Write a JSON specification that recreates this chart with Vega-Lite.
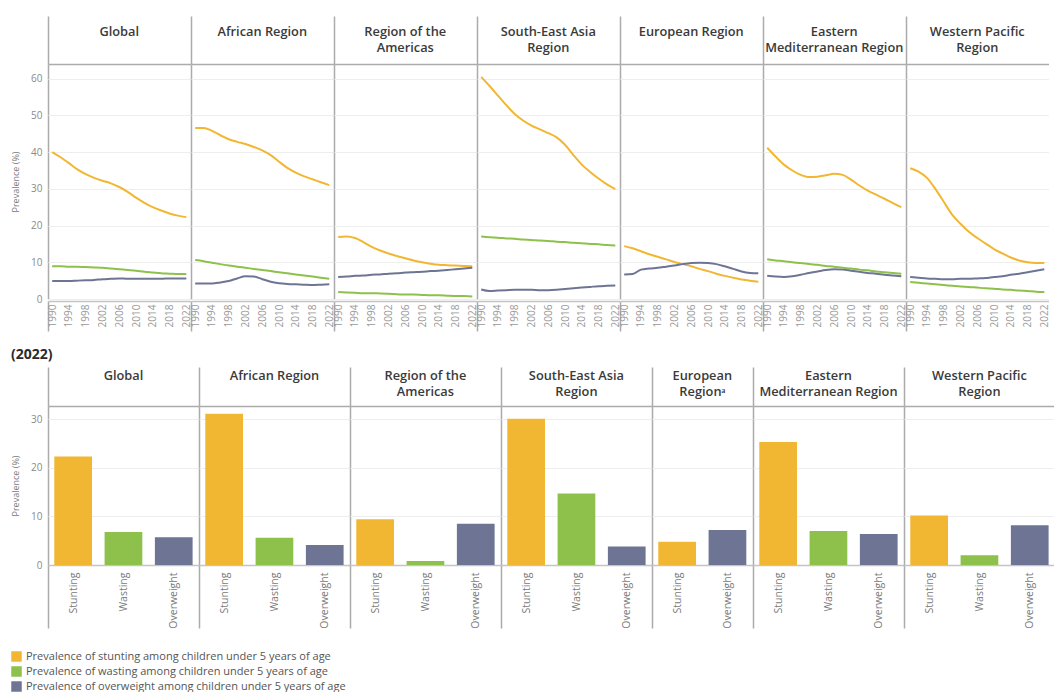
{
  "$schema": "https://vega.github.io/schema/vega-lite/v6.json",
  "background": "white",
  "padding": {"left": 11, "top": 15, "right": 0, "bottom": 0},
  "config": {
    "font": "Open Sans",
    "view": {"stroke": null},
    "header": {
      "labelFont": "Open Sans",
      "labelFontSize": 12.8,
      "labelFontWeight": 600,
      "labelColor": "#3a3a3a",
      "labelLineHeight": 16
    }
  },
  "datasets": {
    "trend": [
      {"region": "Global", "year": 1990, "Stunting": 40.0, "Wasting": 8.9, "Overweight": 4.9},
      {"region": "Global", "year": 1992, "Stunting": 38.6, "Wasting": 8.9, "Overweight": 4.9},
      {"region": "Global", "year": 1994, "Stunting": 37.0, "Wasting": 8.8, "Overweight": 4.9},
      {"region": "Global", "year": 1996, "Stunting": 35.3, "Wasting": 8.8, "Overweight": 5.0},
      {"region": "Global", "year": 1998, "Stunting": 34.0, "Wasting": 8.7, "Overweight": 5.1},
      {"region": "Global", "year": 2000, "Stunting": 33.0, "Wasting": 8.6, "Overweight": 5.2},
      {"region": "Global", "year": 2002, "Stunting": 32.2, "Wasting": 8.5, "Overweight": 5.4},
      {"region": "Global", "year": 2004, "Stunting": 31.5, "Wasting": 8.3, "Overweight": 5.5},
      {"region": "Global", "year": 2006, "Stunting": 30.5, "Wasting": 8.1, "Overweight": 5.6},
      {"region": "Global", "year": 2008, "Stunting": 29.2, "Wasting": 7.9, "Overweight": 5.5},
      {"region": "Global", "year": 2010, "Stunting": 27.6, "Wasting": 7.7, "Overweight": 5.5},
      {"region": "Global", "year": 2012, "Stunting": 26.2, "Wasting": 7.4, "Overweight": 5.5},
      {"region": "Global", "year": 2014, "Stunting": 25.0, "Wasting": 7.2, "Overweight": 5.5},
      {"region": "Global", "year": 2016, "Stunting": 24.1, "Wasting": 7.0, "Overweight": 5.5},
      {"region": "Global", "year": 2018, "Stunting": 23.3, "Wasting": 6.9, "Overweight": 5.6},
      {"region": "Global", "year": 2020, "Stunting": 22.7, "Wasting": 6.8, "Overweight": 5.6},
      {"region": "Global", "year": 2022, "Stunting": 22.3, "Wasting": 6.8, "Overweight": 5.6},

      {"region": "African Region", "year": 1990, "Stunting": 46.6, "Wasting": 10.6, "Overweight": 4.2},
      {"region": "African Region", "year": 1992, "Stunting": 46.6, "Wasting": 10.3, "Overweight": 4.2},
      {"region": "African Region", "year": 1994, "Stunting": 45.8, "Wasting": 9.9, "Overweight": 4.2},
      {"region": "African Region", "year": 1996, "Stunting": 44.6, "Wasting": 9.5, "Overweight": 4.5},
      {"region": "African Region", "year": 1998, "Stunting": 43.5, "Wasting": 9.1, "Overweight": 4.9},
      {"region": "African Region", "year": 2000, "Stunting": 42.8, "Wasting": 8.8, "Overweight": 5.6},
      {"region": "African Region", "year": 2002, "Stunting": 42.2, "Wasting": 8.5, "Overweight": 6.2},
      {"region": "African Region", "year": 2004, "Stunting": 41.4, "Wasting": 8.2, "Overweight": 6.1},
      {"region": "African Region", "year": 2006, "Stunting": 40.5, "Wasting": 7.9, "Overweight": 5.4},
      {"region": "African Region", "year": 2008, "Stunting": 39.2, "Wasting": 7.6, "Overweight": 4.7},
      {"region": "African Region", "year": 2010, "Stunting": 37.4, "Wasting": 7.3, "Overweight": 4.3},
      {"region": "African Region", "year": 2012, "Stunting": 35.7, "Wasting": 7.0, "Overweight": 4.1},
      {"region": "African Region", "year": 2014, "Stunting": 34.4, "Wasting": 6.7, "Overweight": 4.0},
      {"region": "African Region", "year": 2016, "Stunting": 33.4, "Wasting": 6.4, "Overweight": 3.9},
      {"region": "African Region", "year": 2018, "Stunting": 32.6, "Wasting": 6.1, "Overweight": 3.8},
      {"region": "African Region", "year": 2020, "Stunting": 31.8, "Wasting": 5.8, "Overweight": 3.9},
      {"region": "African Region", "year": 2022, "Stunting": 31.0, "Wasting": 5.5, "Overweight": 4.0},

      {"region": "Region of the Americas", "year": 1990, "Stunting": 16.9, "Wasting": 1.9, "Overweight": 6.0},
      {"region": "Region of the Americas", "year": 1992, "Stunting": 17.0, "Wasting": 1.8, "Overweight": 6.1},
      {"region": "Region of the Americas", "year": 1994, "Stunting": 16.6, "Wasting": 1.7, "Overweight": 6.3},
      {"region": "Region of the Americas", "year": 1996, "Stunting": 15.5, "Wasting": 1.6, "Overweight": 6.4},
      {"region": "Region of the Americas", "year": 1998, "Stunting": 14.2, "Wasting": 1.6, "Overweight": 6.6},
      {"region": "Region of the Americas", "year": 2000, "Stunting": 13.2, "Wasting": 1.5, "Overweight": 6.7},
      {"region": "Region of the Americas", "year": 2002, "Stunting": 12.4, "Wasting": 1.4, "Overweight": 6.9},
      {"region": "Region of the Americas", "year": 2004, "Stunting": 11.7, "Wasting": 1.3, "Overweight": 7.0},
      {"region": "Region of the Americas", "year": 2006, "Stunting": 11.1, "Wasting": 1.2, "Overweight": 7.2},
      {"region": "Region of the Americas", "year": 2008, "Stunting": 10.5, "Wasting": 1.2, "Overweight": 7.3},
      {"region": "Region of the Americas", "year": 2010, "Stunting": 10.0, "Wasting": 1.1, "Overweight": 7.4},
      {"region": "Region of the Americas", "year": 2012, "Stunting": 9.6, "Wasting": 1.0, "Overweight": 7.6},
      {"region": "Region of the Americas", "year": 2014, "Stunting": 9.3, "Wasting": 1.0, "Overweight": 7.7},
      {"region": "Region of the Americas", "year": 2016, "Stunting": 9.2, "Wasting": 0.9, "Overweight": 7.9},
      {"region": "Region of the Americas", "year": 2018, "Stunting": 9.1, "Wasting": 0.8, "Overweight": 8.1},
      {"region": "Region of the Americas", "year": 2020, "Stunting": 9.0, "Wasting": 0.8, "Overweight": 8.3},
      {"region": "Region of the Americas", "year": 2022, "Stunting": 8.9, "Wasting": 0.7, "Overweight": 8.5},

      {"region": "South-East Asia Region", "year": 1990, "Stunting": 60.5, "Wasting": 17.0, "Overweight": 2.6},
      {"region": "South-East Asia Region", "year": 1992, "Stunting": 58.0, "Wasting": 16.8, "Overweight": 2.2},
      {"region": "South-East Asia Region", "year": 1994, "Stunting": 55.4, "Wasting": 16.7, "Overweight": 2.3},
      {"region": "South-East Asia Region", "year": 1996, "Stunting": 52.8, "Wasting": 16.5, "Overweight": 2.4},
      {"region": "South-East Asia Region", "year": 1998, "Stunting": 50.4, "Wasting": 16.4, "Overweight": 2.5},
      {"region": "South-East Asia Region", "year": 2000, "Stunting": 48.6, "Wasting": 16.2, "Overweight": 2.5},
      {"region": "South-East Asia Region", "year": 2002, "Stunting": 47.2, "Wasting": 16.1, "Overweight": 2.5},
      {"region": "South-East Asia Region", "year": 2004, "Stunting": 46.2, "Wasting": 15.9, "Overweight": 2.4},
      {"region": "South-East Asia Region", "year": 2006, "Stunting": 45.2, "Wasting": 15.8, "Overweight": 2.4},
      {"region": "South-East Asia Region", "year": 2008, "Stunting": 44.0, "Wasting": 15.6, "Overweight": 2.5},
      {"region": "South-East Asia Region", "year": 2010, "Stunting": 42.0, "Wasting": 15.5, "Overweight": 2.7},
      {"region": "South-East Asia Region", "year": 2012, "Stunting": 39.2, "Wasting": 15.3, "Overweight": 2.9},
      {"region": "South-East Asia Region", "year": 2014, "Stunting": 36.6, "Wasting": 15.2, "Overweight": 3.1},
      {"region": "South-East Asia Region", "year": 2016, "Stunting": 34.6, "Wasting": 15.0, "Overweight": 3.3},
      {"region": "South-East Asia Region", "year": 2018, "Stunting": 32.8, "Wasting": 14.9, "Overweight": 3.5},
      {"region": "South-East Asia Region", "year": 2020, "Stunting": 31.2, "Wasting": 14.7, "Overweight": 3.6},
      {"region": "South-East Asia Region", "year": 2022, "Stunting": 29.9, "Wasting": 14.6, "Overweight": 3.7},

      {"region": "European Region", "year": 1990, "Stunting": 14.4, "Overweight": 6.7},
      {"region": "European Region", "year": 1992, "Stunting": 13.8, "Overweight": 6.8},
      {"region": "European Region", "year": 1994, "Stunting": 13.0, "Overweight": 8.0},
      {"region": "European Region", "year": 1996, "Stunting": 12.2, "Overweight": 8.3},
      {"region": "European Region", "year": 1998, "Stunting": 11.5, "Overweight": 8.5},
      {"region": "European Region", "year": 2000, "Stunting": 10.8, "Overweight": 8.8},
      {"region": "European Region", "year": 2002, "Stunting": 10.1, "Overweight": 9.1},
      {"region": "European Region", "year": 2004, "Stunting": 9.5, "Overweight": 9.5},
      {"region": "European Region", "year": 2006, "Stunting": 8.9, "Overweight": 9.8},
      {"region": "European Region", "year": 2008, "Stunting": 8.2, "Overweight": 9.9},
      {"region": "European Region", "year": 2010, "Stunting": 7.6, "Overweight": 9.8},
      {"region": "European Region", "year": 2012, "Stunting": 6.9, "Overweight": 9.5},
      {"region": "European Region", "year": 2014, "Stunting": 6.3, "Overweight": 8.9},
      {"region": "European Region", "year": 2016, "Stunting": 5.8, "Overweight": 8.2},
      {"region": "European Region", "year": 2018, "Stunting": 5.3, "Overweight": 7.5},
      {"region": "European Region", "year": 2020, "Stunting": 5.0, "Overweight": 7.1},
      {"region": "European Region", "year": 2022, "Stunting": 4.7, "Overweight": 7.0},

      {"region": "Eastern Mediterranean Region", "year": 1990, "Stunting": 41.2, "Wasting": 10.8, "Overweight": 6.3},
      {"region": "Eastern Mediterranean Region", "year": 1992, "Stunting": 38.8, "Wasting": 10.5, "Overweight": 6.1},
      {"region": "Eastern Mediterranean Region", "year": 1994, "Stunting": 36.6, "Wasting": 10.3, "Overweight": 6.0},
      {"region": "Eastern Mediterranean Region", "year": 1996, "Stunting": 35.0, "Wasting": 10.0, "Overweight": 6.2},
      {"region": "Eastern Mediterranean Region", "year": 1998, "Stunting": 33.8, "Wasting": 9.8, "Overweight": 6.6},
      {"region": "Eastern Mediterranean Region", "year": 2000, "Stunting": 33.2, "Wasting": 9.5, "Overweight": 7.1},
      {"region": "Eastern Mediterranean Region", "year": 2002, "Stunting": 33.3, "Wasting": 9.3, "Overweight": 7.5},
      {"region": "Eastern Mediterranean Region", "year": 2004, "Stunting": 33.7, "Wasting": 9.0, "Overweight": 7.9},
      {"region": "Eastern Mediterranean Region", "year": 2006, "Stunting": 34.1, "Wasting": 8.8, "Overweight": 8.1},
      {"region": "Eastern Mediterranean Region", "year": 2008, "Stunting": 33.8, "Wasting": 8.5, "Overweight": 8.0},
      {"region": "Eastern Mediterranean Region", "year": 2010, "Stunting": 32.5, "Wasting": 8.3, "Overweight": 7.7},
      {"region": "Eastern Mediterranean Region", "year": 2012, "Stunting": 30.9, "Wasting": 8.0, "Overweight": 7.4},
      {"region": "Eastern Mediterranean Region", "year": 2014, "Stunting": 29.5, "Wasting": 7.8, "Overweight": 7.1},
      {"region": "Eastern Mediterranean Region", "year": 2016, "Stunting": 28.4, "Wasting": 7.5, "Overweight": 6.9},
      {"region": "Eastern Mediterranean Region", "year": 2018, "Stunting": 27.3, "Wasting": 7.3, "Overweight": 6.6},
      {"region": "Eastern Mediterranean Region", "year": 2020, "Stunting": 26.1, "Wasting": 7.1, "Overweight": 6.4},
      {"region": "Eastern Mediterranean Region", "year": 2022, "Stunting": 25.0, "Wasting": 6.9, "Overweight": 6.2},

      {"region": "Western Pacific Region", "year": 1990, "Stunting": 35.6, "Wasting": 4.6, "Overweight": 6.0},
      {"region": "Western Pacific Region", "year": 1992, "Stunting": 34.7, "Wasting": 4.4, "Overweight": 5.8},
      {"region": "Western Pacific Region", "year": 1994, "Stunting": 33.0, "Wasting": 4.2, "Overweight": 5.6},
      {"region": "Western Pacific Region", "year": 1996, "Stunting": 30.0, "Wasting": 4.0, "Overweight": 5.5},
      {"region": "Western Pacific Region", "year": 1998, "Stunting": 26.5, "Wasting": 3.8, "Overweight": 5.4},
      {"region": "Western Pacific Region", "year": 2000, "Stunting": 23.0, "Wasting": 3.6, "Overweight": 5.4},
      {"region": "Western Pacific Region", "year": 2002, "Stunting": 20.5, "Wasting": 3.4, "Overweight": 5.5},
      {"region": "Western Pacific Region", "year": 2004, "Stunting": 18.3, "Wasting": 3.3, "Overweight": 5.5},
      {"region": "Western Pacific Region", "year": 2006, "Stunting": 16.6, "Wasting": 3.1, "Overweight": 5.6},
      {"region": "Western Pacific Region", "year": 2008, "Stunting": 15.1, "Wasting": 2.9, "Overweight": 5.7},
      {"region": "Western Pacific Region", "year": 2010, "Stunting": 13.6, "Wasting": 2.8, "Overweight": 6.0},
      {"region": "Western Pacific Region", "year": 2012, "Stunting": 12.4, "Wasting": 2.6, "Overweight": 6.2},
      {"region": "Western Pacific Region", "year": 2014, "Stunting": 11.3, "Wasting": 2.5, "Overweight": 6.6},
      {"region": "Western Pacific Region", "year": 2016, "Stunting": 10.5, "Wasting": 2.3, "Overweight": 6.9},
      {"region": "Western Pacific Region", "year": 2018, "Stunting": 10.0, "Wasting": 2.2, "Overweight": 7.3},
      {"region": "Western Pacific Region", "year": 2020, "Stunting": 9.8, "Wasting": 2.0, "Overweight": 7.7},
      {"region": "Western Pacific Region", "year": 2022, "Stunting": 9.8, "Wasting": 1.9, "Overweight": 8.1}
    ],
    "latest": [
      {"region": "Global", "indicator": "Stunting", "value": 22.3},
      {"region": "Global", "indicator": "Wasting", "value": 6.8},
      {"region": "Global", "indicator": "Overweight", "value": 5.7},
      {"region": "African Region", "indicator": "Stunting", "value": 31.1},
      {"region": "African Region", "indicator": "Wasting", "value": 5.6},
      {"region": "African Region", "indicator": "Overweight", "value": 4.1},
      {"region": "Region of the Americas", "indicator": "Stunting", "value": 9.4},
      {"region": "Region of the Americas", "indicator": "Wasting", "value": 0.8},
      {"region": "Region of the Americas", "indicator": "Overweight", "value": 8.5},
      {"region": "South-East Asia Region", "indicator": "Stunting", "value": 30.1},
      {"region": "South-East Asia Region", "indicator": "Wasting", "value": 14.7},
      {"region": "South-East Asia Region", "indicator": "Overweight", "value": 3.8},
      {"region": "European Region", "indicator": "Stunting", "value": 4.8},
      {"region": "European Region", "indicator": "Overweight", "value": 7.2},
      {"region": "Eastern Mediterranean Region", "indicator": "Stunting", "value": 25.3},
      {"region": "Eastern Mediterranean Region", "indicator": "Wasting", "value": 7.0},
      {"region": "Eastern Mediterranean Region", "indicator": "Overweight", "value": 6.4},
      {"region": "Western Pacific Region", "indicator": "Stunting", "value": 10.2},
      {"region": "Western Pacific Region", "indicator": "Wasting", "value": 2.0},
      {"region": "Western Pacific Region", "indicator": "Overweight", "value": 8.2}
    ]
  },
  "vconcat": [
    {
      "data": {"name": "trend"},
      "transform": [
        {"fold": ["Stunting", "Wasting", "Overweight"], "as": ["indicator", "value"]},
        {"filter": "isValid(datum.value)"}
      ],
      "facet": {
        "column": {
          "field": "region",
          "sort": ["Global", "African Region", "Region of the Americas", "South-East Asia Region", "European Region", "Eastern Mediterranean Region", "Western Pacific Region"],
          "title": null,
          "header": {
            "labelPadding": -40,
            "labelExpr": "datum.value == 'Region of the Americas' ? ['Region of the', 'Americas'] : datum.value == 'South-East Asia Region' ? ['South-East Asia', 'Region'] : datum.value == 'Eastern Mediterranean Region' ? ['Eastern', 'Mediterranean Region'] : datum.value == 'Western Pacific Region' ? ['Western Pacific', 'Region'] : [datum.value, ' ']"
          }
        }
      },
      "spacing": 0,
      "spec": {
        "width": 142.5,
        "height": 235,
        "layer": [
          {
            "mark": {"type": "line", "interpolate": "monotone", "strokeWidth": 2},
            "encoding": {
              "x": {
                "field": "year",
                "type": "quantitative",
                "scale": {"domain": [1989, 2023], "nice": false, "zero": false},
                "axis": {
                  "title": null,
                  "values": [1989, 1990, 1994, 1998, 2002, 2006, 2010, 2014, 2018, 2022],
                  "format": "d",
                  "labelExpr": "datum.value == 1989 ? '' : datum.label",
                  "labelAngle": -90,
                  "labelFontSize": 10,
                  "labelColor": "#999999",
                  "labelPadding": 3,
                  "labelFlush": false,
                  "labelOverlap": false,
                  "domain": true,
                  "domainColor": "#c4c4c4",
                  "domainWidth": 1.5,
                  "ticks": true,
                  "tickSize": {"condition": {"test": "datum.value == 1989", "value": 30}, "value": 0},
                  "tickColor": "#ababab",
                  "tickWidth": 1.5,
                  "grid": true,
                  "gridColor": {"condition": {"test": "datum.value == 1989", "value": "#ababab"}, "value": "transparent"},
                  "gridWidth": 1.5
                }
              },
              "y": {
                "field": "value",
                "type": "quantitative",
                "scale": {"domain": [0, 64], "nice": false},
                "axis": {
                  "title": "Prevalence (%)",
                  "titleFontSize": 9,
                  "titleFontWeight": "normal",
                  "titleColor": "#7a7a7a",
                  "titlePadding": 10,
                  "values": [0, 10, 20, 30, 40, 50, 60],
                  "labelFontSize": 10,
                  "labelColor": "#8a8a8a",
                  "labelPadding": 6,
                  "labelOverlap": false,
                  "ticks": false,
                  "domain": false,
                  "grid": true,
                  "gridColor": "#eeeeee"
                }
              },
              "color": {
                "field": "indicator",
                "type": "nominal",
                "scale": {"domain": ["Stunting", "Wasting", "Overweight"], "range": ["#F2B732", "#8DC14B", "#6E7594"]},
                "legend": null
              }
            }
          },
          {
            "mark": {"type": "line", "opacity": 0},
            "encoding": {
              "x": {
                "field": "year",
                "type": "quantitative",
                "scale": {"domain": [1989, 2023], "nice": false, "zero": false},
                "axis": {
                  "orient": "top",
                  "title": null,
                  "values": [1989],
                  "labels": false,
                  "domain": true,
                  "domainColor": "#ababab",
                  "domainWidth": 1.5,
                  "ticks": true,
                  "tickSize": 48,
                  "tickColor": "#ababab",
                  "tickWidth": 1.5,
                  "grid": false
                }
              },
              "y": {"field": "value", "type": "quantitative", "axis": null}
            }
          }
        ],
        "resolve": {"axis": {"x": "independent", "y": "independent"}}
      }
    },
    {
      "title": {"text": "(2022)", "anchor": "start", "frame": "bounds", "fontSize": 14, "fontWeight": "bold", "color": "#2a2a2a", "offset": 4},
      "data": {"name": "latest"},
      "facet": {
        "column": {
          "field": "region",
          "sort": ["Global", "African Region", "Region of the Americas", "South-East Asia Region", "European Region", "Eastern Mediterranean Region", "Western Pacific Region"],
          "title": null,
          "header": {
            "labelPadding": 7,
            "labelExpr": "datum.value == 'Region of the Americas' ? ['Region of the', 'Americas'] : datum.value == 'South-East Asia Region' ? ['South-East Asia', 'Region'] : datum.value == 'European Region' ? ['European', 'Regionᵃ'] : datum.value == 'Eastern Mediterranean Region' ? ['Eastern', 'Mediterranean Region'] : datum.value == 'Western Pacific Region' ? ['Western Pacific', 'Region'] : [datum.value, ' ']"
          }
        }
      },
      "spacing": 0,
      "bounds": "flush",
      "resolve": {"scale": {"x": "independent"}},
      "spec": {
        "width": {"step": 50.3},
        "height": 159,
        "layer": [
          {
            "mark": {"type": "bar", "width": {"band": 0.75}},
            "encoding": {
              "x": {
                "field": "indicator",
                "type": "nominal",
                "sort": ["Stunting", "Wasting", "Overweight"],
                "scale": {"paddingInner": 0, "paddingOuter": 0},
                "axis": {
                  "title": null,
                  "tickBand": "extent",
                  "labelAngle": -90,
                  "labelFontSize": 10.5,
                  "labelColor": "#7a7a7a",
                  "labelPadding": 7,
                  "domain": true,
                  "domainColor": "#c4c4c4",
                  "domainWidth": 1.5,
                  "ticks": true,
                  "tickSize": {"condition": {"test": "datum.index < 0", "value": 63}, "value": 0},
                  "tickColor": "#ababab",
                  "tickWidth": 1.5,
                  "grid": true,
                  "gridColor": {"condition": {"test": "datum.index < 0", "value": "#ababab"}, "value": "transparent"},
                  "gridWidth": 1.5
                }
              },
              "y": {
                "field": "value",
                "type": "quantitative",
                "scale": {"domain": [0, 32.7], "nice": false},
                "axis": {
                  "title": "Prevalence (%)",
                  "titleFontSize": 9,
                  "titleFontWeight": "normal",
                  "titleColor": "#7a7a7a",
                  "titlePadding": 10,
                  "values": [0, 10, 20, 30],
                  "labelFontSize": 10,
                  "labelColor": "#8a8a8a",
                  "labelPadding": 6,
                  "labelOverlap": false,
                  "ticks": false,
                  "domain": false,
                  "grid": true,
                  "gridColor": "#eeeeee"
                }
              },
              "color": {
                "field": "indicator",
                "type": "nominal",
                "scale": {"domain": ["Stunting", "Wasting", "Overweight"], "range": ["#F2B732", "#8DC14B", "#6E7594"]},
                "legend": {
                  "orient": "none",
                  "legendX": -37,
                  "legendY": 245,
                  "direction": "vertical",
                  "title": null,
                  "symbolType": "square",
                  "symbolSize": 110,
                  "symbolStrokeWidth": 0,
                  "labelFontSize": 11,
                  "labelColor": "#555555",
                  "labelLimit": 0,
                  "rowPadding": 3,
                  "labelExpr": "'Prevalence of ' + lower(datum.label) + ' among children under 5 years of age'"
                }
              }
            }
          },
          {
            "mark": {"type": "bar", "opacity": 0},
            "encoding": {
              "x": {
                "field": "indicator",
                "type": "nominal",
                "sort": ["Stunting", "Wasting", "Overweight"],
                "scale": {"paddingInner": 0, "paddingOuter": 0},
                "axis": {
                  "orient": "top",
                  "title": null,
                  "tickBand": "extent",
                  "labels": false,
                  "domain": true,
                  "domainColor": "#ababab",
                  "domainWidth": 1.5,
                  "ticks": true,
                  "tickSize": {"condition": {"test": "datum.index < 0", "value": 39}, "value": 0},
                  "tickColor": "#ababab",
                  "tickWidth": 1.5,
                  "grid": false
                }
              },
              "y": {"field": "value", "type": "quantitative", "axis": null}
            }
          }
        ],
        "resolve": {"axis": {"x": "independent", "y": "independent"}}
      }
    }
  ],
  "resolve": {"legend": {"color": "independent"}},
  "spacing": 14
}
